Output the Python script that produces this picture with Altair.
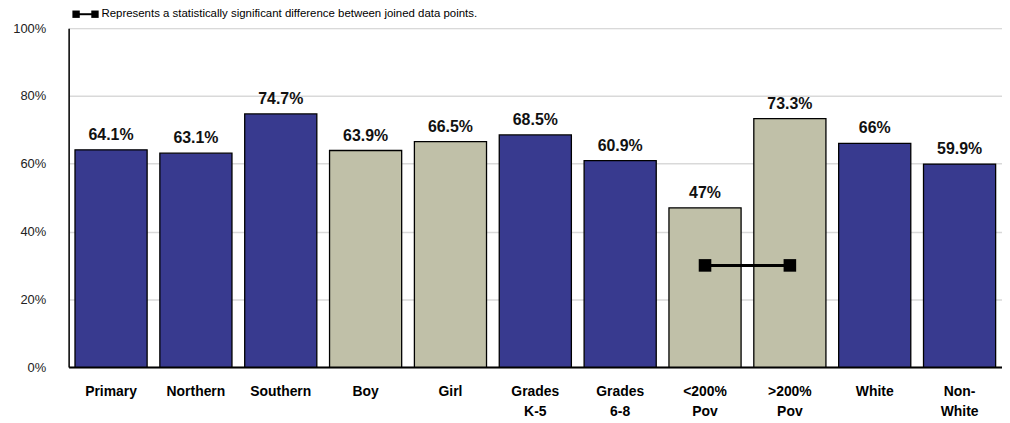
import altair as alt
import pandas as pd

categories = ["Primary", "Northern", "Southern", "Boy", "Girl", "Grades\nK-5",
              "Grades\n6-8", "<200%\nPov", ">200%\nPov", "White", "Non-\nWhite"]
values = [64.1, 63.1, 74.7, 63.9, 66.5, 68.5, 60.9, 47, 73.3, 66, 59.9]
value_labels = ["64.1%", "63.1%", "74.7%", "63.9%", "66.5%", "68.5%",
                "60.9%", "47%", "73.3%", "66%", "59.9%"]
groups = ["navy", "navy", "navy", "beige", "beige", "navy", "navy",
          "beige", "beige", "navy", "navy"]
sig_pair = ["<200%\nPov", ">200%\nPov"]
sig_level = [30, 30]
y_ticks = [0, 20, 40, 60, 80, 100]
legend_text = "Represents a statistically significant difference between joined data points."

df = pd.DataFrame({"category": categories, "value": values,
                   "label": value_labels, "group": groups})
sig = pd.DataFrame({"category": sig_pair, "value": sig_level})
dummy = pd.DataFrame({"a": [0]})

W, H = 939, 341

x_enc = alt.X("category:N", sort=categories,
              scale=alt.Scale(paddingInner=0.15, paddingOuter=0.075),
              axis=alt.Axis(title=None, labelAngle=0, ticks=False,
                            labelExpr="split(datum.label, '\\n')",
                            labelFont="Liberation Sans", labelFontWeight="bold",
                            labelFontSize=14, labelLineHeight=20, labelColor="black",
                            labelPadding=18, labelBaseline="top",
                            domainColor="black", domainWidth=2))
y_scale = alt.Scale(domain=[0, 100], nice=False)

bars = alt.Chart(df).mark_bar(stroke="black", strokeWidth=1.3).encode(
    x=x_enc,
    y=alt.Y("value:Q", scale=y_scale,
            axis=alt.Axis(title=None, values=y_ticks, labelExpr="datum.value + '%'",
                          ticks=False, labelPadding=23, labelFontSize=13,
                          labelFont="Liberation Sans", labelColor="#222222",
                          grid=True, gridColor="#D9D9D9", gridWidth=1.5,
                          domainColor="black", domainWidth=1.5)),
    color=alt.Color("group:N", scale=alt.Scale(domain=["navy", "beige"],
                                               range=["#383A8F", "#C0C0A8"]),
                    legend=None),
)

labels = alt.Chart(df).mark_text(baseline="alphabetic", dy=-10, fontSize=16,
                                 fontWeight="bold", font="Liberation Sans",
                                 color="#111111").encode(
    x=alt.X("category:N", sort=categories),
    y=alt.Y("value:Q", scale=y_scale),
    text="label:N",
)

sig_line = alt.Chart(sig).mark_line(color="black", strokeWidth=3).encode(
    x=alt.X("category:N", sort=categories),
    y=alt.Y("value:Q", scale=y_scale),
)
sig_pts = alt.Chart(sig).mark_square(color="black", opacity=1, size=160).encode(
    x=alt.X("category:N", sort=categories),
    y=alt.Y("value:Q", scale=y_scale),
)

leg_line = alt.Chart(dummy).mark_rule(color="black", strokeWidth=2).encode(
    x=alt.value(6), x2=alt.value(27), y=alt.value(-14))
leg_sq1 = alt.Chart(dummy).mark_square(color="black", opacity=1, size=55).encode(
    x=alt.value(7.5), y=alt.value(-14))
leg_sq2 = alt.Chart(dummy).mark_square(color="black", opacity=1, size=55).encode(
    x=alt.value(26.5), y=alt.value(-14))
leg_text = alt.Chart(dummy).mark_text(align="left", baseline="middle", fontSize=11.5,
                                      font="Liberation Sans Narrow, Liberation Sans",
                                      color="black").encode(
    x=alt.value(33), y=alt.value(-14), text=alt.value(legend_text))

chart = alt.layer(bars, labels, sig_line, sig_pts, leg_line, leg_sq1, leg_sq2,
                  leg_text).properties(
    width=W, height=H,
    autosize=alt.AutoSizeParams(type="none"),
    padding={"left": 61, "top": 19, "right": 0, "bottom": 55},
).configure_view(stroke="black", strokeWidth=1.5).configure(background="white")

chart.save("out.html", embed_options={"renderer": "svg", "actions": False})
